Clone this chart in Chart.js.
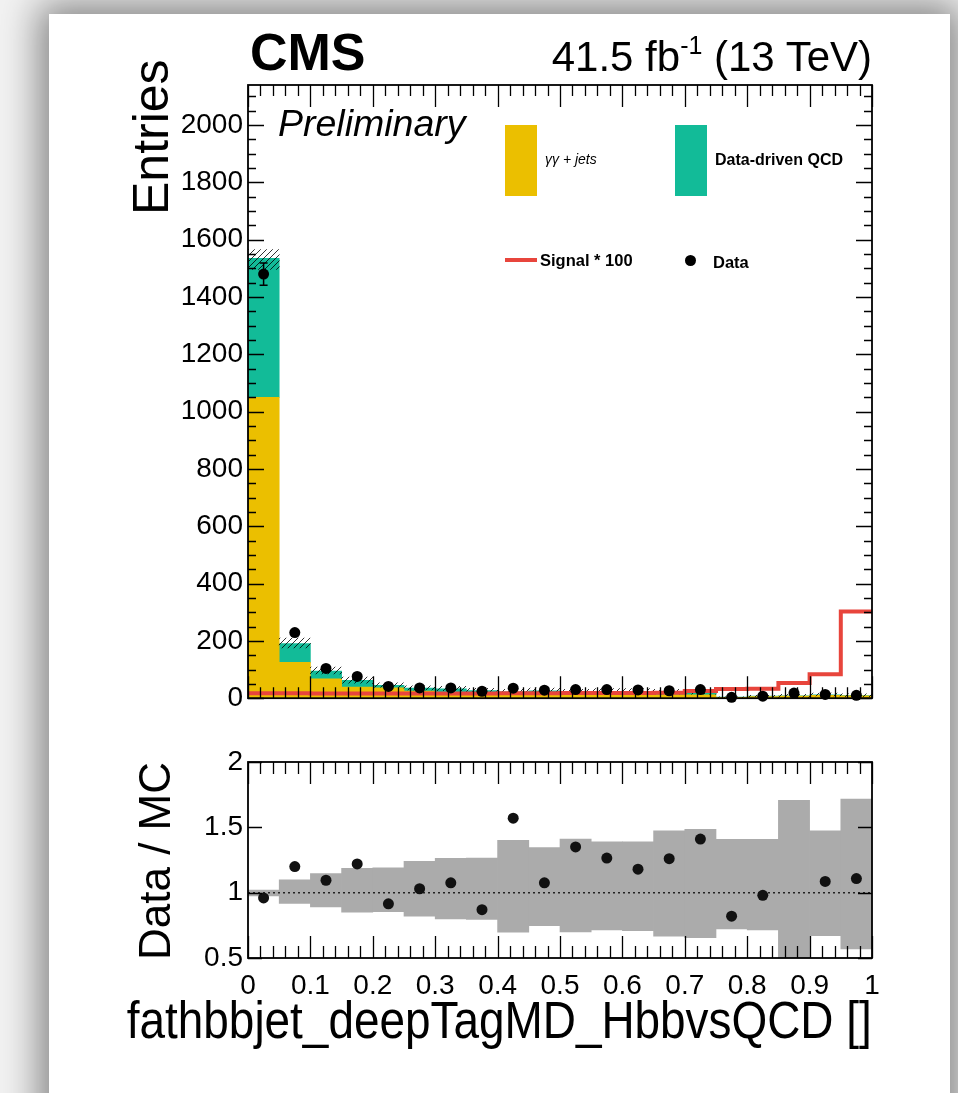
<!DOCTYPE html>
<html><head><meta charset="utf-8">
<script src="https://cdn.jsdelivr.net/npm/chart.js@4.4.1/dist/chart.umd.min.js"></script>
<style>
html,body{margin:0;padding:0}
body{width:958px;height:1093px;position:relative;overflow:hidden;background:#f2f2f2;font-family:'Liberation Sans',Arial,Helvetica,sans-serif;color:#000}
#card{position:absolute;left:49px;top:14px;width:901px;height:1140px;background:#fff;box-shadow:0 0 36px 10px rgba(0,0,0,0.45)}
canvas{position:absolute;left:0}
.t{position:absolute;white-space:nowrap;line-height:1}
.rot{transform-origin:0 0;transform:rotate(-90deg)}
.box{position:absolute}
</style></head><body>
<div id="card"></div>
<canvas id="mainCanvas" width="958" height="720" style="top:0"></canvas>
<canvas id="ratioCanvas" width="958" height="373" style="top:720px"></canvas>

<div class="t" style="left:250px;top:26px;font-size:52px;font-weight:bold">CMS</div>
<div class="t" style="right:86px;top:36px;font-size:42px">41.5 fb<span style="font-size:25px;position:relative;top:-17px">-1</span> (13 TeV)</div>
<div class="t" style="left:278px;top:105px;font-size:37.5px;font-style:italic">Preliminary</div>
<div class="t rot" style="left:126px;top:215px;font-size:50px">Entries</div>
<div class="t rot" style="left:133px;top:960px;font-size:44px">Data / MC</div>
<div class="t" style="right:86px;top:995px;font-size:51px;transform-origin:100% 50%;transform:scaleX(0.9)">fathbbjet_deepTagMD_HbbvsQCD []</div>

<div class="box" style="left:505px;top:125px;width:32px;height:71px;background:#EBBF00"></div>
<div class="t" style="left:545px;top:152px;font-size:14px;font-style:italic">γγ + jets</div>
<div class="box" style="left:675px;top:125px;width:32px;height:71px;background:#12BB98"></div>
<div class="t" style="left:715px;top:152px;font-size:16px;font-weight:bold">Data-driven QCD</div>
<div class="box" style="left:505px;top:258px;width:32px;height:4px;background:#E8453C"></div>
<div class="t" style="left:540px;top:252px;font-size:16.5px;font-weight:bold">Signal * 100</div>
<div class="box" style="left:685px;top:255px;width:11px;height:11px;border-radius:50%;background:#000"></div>
<div class="t" style="left:713px;top:254px;font-size:16.5px;font-weight:bold">Data</div>

<script>
// ---------- data ----------
const binLowEdges = [0, 0.05, 0.1, 0.15, 0.2, 0.25, 0.3, 0.35, 0.4, 0.45, 0.5, 0.55, 0.6, 0.65, 0.7, 0.75, 0.8, 0.85, 0.9, 0.95];
const binWidth = 0.05;
const gammaJets     = [1050, 125, 68, 39, 36, 25, 19, 17, 14, 15, 13, 14, 14, 12, 12, 3, 6, 7, 10, 8];
const dataDrivenQCD = [485, 66, 27, 23, 9, 10, 14, 10, 8, 11, 9, 10, 10, 9, 9, 0.7, 1, 1, 2, 1];
const signalX100    = [17, 17, 16, 16, 16, 16, 16, 16, 17, 17, 18, 18, 18, 19, 25, 32, 33, 53, 84, 303];
const dataCounts    = [1480, 229, 104, 76, 41, 36, 36, 24, 35, 28, 30, 30, 29, 26, 30, 3, 7, 18, 13, 10];
const dataErrors    = [39, 15, 10, 9, 6, 6, 6, 5, 6, 5, 5, 5, 5, 5, 5, 2, 3, 4, 4, 3];
const ratioValues   = [0.96, 1.20, 1.095, 1.22, 0.915, 1.03, 1.075, 0.87, 1.57, 1.075, 1.35, 1.265, 1.18, 1.26, 1.41, 0.82, 0.98, null, 1.086, 1.108];
const mcBandUp      = [1.02, 1.098, 1.146, 1.186, 1.19, 1.24, 1.262, 1.265, 1.40, 1.345, 1.41, 1.39, 1.39, 1.474, 1.485, 1.409, 1.409, 1.707, 1.474, 1.717];
const mcBandDown    = [0.975, 0.917, 0.89, 0.85, 0.855, 0.82, 0.80, 0.795, 0.697, 0.747, 0.70, 0.714, 0.71, 0.667, 0.656, 0.722, 0.714, 0.30, 0.67, 0.57];
const mainYTickValues  = [0, 200, 400, 600, 800, 1000, 1200, 1400, 1600, 1800, 2000];
const ratioYTickValues = [0.5, 1, 1.5, 2];
const xTickValues      = [0, 0.1, 0.2, 0.3, 0.4, 0.5, 0.6, 0.7, 0.8, 0.9, 1];
const mainYMax = 2140;

// ---------- styling ----------
Chart.defaults.font.family = "'Liberation Sans', Arial, Helvetica, sans-serif";
Chart.defaults.color = '#000';
const COL_YY = '#EBBF00', COL_QCD = '#12BB98', COL_SIG = '#E8453C', COL_BAND = '#ABABAB';

const centers = binLowEdges.map(e => e + binWidth / 2);
const mcTotal = gammaJets.map((v, i) => v + dataDrivenQCD[i]);

function hatchPattern() {
  const c = document.createElement('canvas'); c.width = 6; c.height = 6;
  const g = c.getContext('2d');
  g.strokeStyle = 'rgba(0,0,0,0.8)'; g.lineWidth = 1;
  g.beginPath(); g.moveTo(0, 6); g.lineTo(6, 0); g.moveTo(-1, 1); g.lineTo(1, -1); g.moveTo(5, 7); g.lineTo(7, 5); g.stroke();
  return g.createPattern(c, 'repeat');
}

// ROOT-like frame with inward ticks on all four sides
const rootFrame = {
  id: 'rootFrame',
  afterDatasetsDraw(chart, args, o) {
    const { ctx, chartArea: a } = chart;
    const xs = chart.scales.x, ys = chart.scales.y;
    ctx.save();
    ctx.strokeStyle = '#000'; ctx.lineWidth = 1.3;
    ctx.beginPath();
    for (let v = xs.min; v <= xs.max + 1e-9; v += o.xMinor) {
      const isMajor = Math.abs(v / o.xMajor - Math.round(v / o.xMajor)) < 1e-6;
      const len = isMajor ? o.xMajLen : o.xMinLen;
      const px = Math.round(xs.getPixelForValue(v)) + 0.5;
      ctx.moveTo(px, a.bottom); ctx.lineTo(px, a.bottom - len);
      ctx.moveTo(px, a.top); ctx.lineTo(px, a.top + len);
    }
    for (let v = ys.min; v <= ys.max + 1e-9; v += o.yMinor) {
      const isMajor = Math.abs(v / o.yMajor - Math.round(v / o.yMajor)) < 1e-6;
      const len = isMajor ? o.yMajLen : o.yMinLen;
      const py = Math.round(ys.getPixelForValue(v)) + 0.5;
      ctx.moveTo(a.left, py); ctx.lineTo(a.left + len, py);
      ctx.moveTo(a.right, py); ctx.lineTo(a.right - len, py);
    }
    ctx.stroke();
    ctx.lineWidth = 1.8;
    ctx.strokeRect(a.left, a.top, a.right - a.left, a.bottom - a.top);
    ctx.restore();
  }
};

// vertical error bars for the data points (drawn via the value scale)
const errorBars = {
  id: 'errorBars',
  afterDatasetsDraw(chart, args, o) {
    if (!o || o.datasetIndex === undefined) return;
    const meta = chart.getDatasetMeta(o.datasetIndex);
    const ys = chart.scales[meta.yAxisID];
    const ctx = chart.ctx;
    ctx.save(); ctx.strokeStyle = '#000'; ctx.lineWidth = 1.5;
    meta.data.forEach((pt, i) => {
      const v = dataCounts[i], e = dataErrors[i];
      const y1 = ys.getPixelForValue(v + e), y2 = ys.getPixelForValue(Math.max(v - e, 0));
      ctx.beginPath();
      ctx.moveTo(pt.x, y1); ctx.lineTo(pt.x, y2);
      if (y2 - y1 > 12) { ctx.moveTo(pt.x - 4, y1); ctx.lineTo(pt.x + 4, y1); ctx.moveTo(pt.x - 4, y2); ctx.lineTo(pt.x + 4, y2); }
      ctx.stroke();
    });
    ctx.restore();
  }
};

const hiddenAxis = (min, max) => ({ type: 'linear', min, max, display: false, stacked: false });
const labelTicks = (vals, pad) => ({
  padding: pad, font: { size: 28 }, color: '#000', autoSkip: false, maxRotation: 0, minRotation: 0,
  callback: v => String(Math.round(v * 100) / 100)
});
const fullBin = { barPercentage: 1, categoryPercentage: 1, grouped: false, borderWidth: 0 };

// ---------- main panel ----------
new Chart(document.getElementById('mainCanvas'), {
  type: 'bar',
  data: {
    datasets: [
      Object.assign({ label: 'γγ + jets', data: centers.map((x, i) => ({ x, y: gammaJets[i] })), backgroundColor: COL_YY,
        order: 3, yAxisID: 'y', stack: 'mc' }, fullBin),
      Object.assign({ label: 'Data-driven QCD', data: centers.map((x, i) => ({ x, y: dataDrivenQCD[i] })), backgroundColor: COL_QCD,
        order: 4, yAxisID: 'y', stack: 'mc' }, fullBin),
      Object.assign({ label: 'MC unc.', data: centers.map((x, i) => ({ x, y: [mcTotal[i] * mcBandDown[i], mcTotal[i] * mcBandUp[i]] })),
        backgroundColor: hatchPattern(), order: 2, yAxisID: 'yv' }, fullBin),
      { type: 'line', label: 'Signal * 100',
        data: binLowEdges.map((x, i) => ({ x, y: signalX100[i] })).concat([{ x: binLowEdges[binLowEdges.length - 1] + binWidth, y: signalX100[signalX100.length - 1] }]),
        stepped: 'before', borderColor: COL_SIG, borderWidth: 4, pointRadius: 0, fill: false, order: 1, yAxisID: 'yv' },
      { type: 'scatter', label: 'Data', data: centers.map((x, i) => ({ x, y: dataCounts[i] })),
        pointRadius: 5.5, pointHoverRadius: 5.5, backgroundColor: '#000', borderWidth: 0, order: 0, yAxisID: 'yv', clip: false }
    ]
  },
  options: {
    responsive: false, animation: false, devicePixelRatio: 1,
    layout: { padding: { left: 0, right: 86, top: 85, bottom: 13 } },
    plugins: { legend: { display: false }, tooltip: { enabled: false },
      rootFrame: { xMinor: 0.02, xMajor: 0.1, xMajLen: 22, xMinLen: 11, yMinor: 50, yMajor: 200, yMajLen: 16, yMinLen: 8 },
      errorBars: { datasetIndex: 4 } },
    scales: {
      x: { type: 'linear', min: 0, max: 1, offset: false, stacked: true, display: false },
      y: { type: 'linear', min: 0, max: mainYMax, stacked: true,
           afterFit: s => { s.width = 248; },
           afterBuildTicks: s => { s.ticks = mainYTickValues.map(v => ({ value: v })); },
           grid: { display: false, drawTicks: false }, border: { display: false },
           ticks: labelTicks(mainYTickValues, 5) },
      yv: hiddenAxis(0, mainYMax)
    }
  },
  plugins: [rootFrame, errorBars]
});

// ---------- ratio panel ----------
new Chart(document.getElementById('ratioCanvas'), {
  type: 'bar',
  data: {
    datasets: [
      Object.assign({ label: 'MC unc.', data: centers.map((x, i) => ({ x, y: [mcBandDown[i], mcBandUp[i]] })),
        backgroundColor: COL_BAND, order: 3 }, fullBin),
      { type: 'line', label: 'unity', data: [{ x: 0, y: 1 }, { x: 1, y: 1 }],
        borderColor: '#222', borderWidth: 1.5, borderDash: [2, 3], pointRadius: 0, fill: false, order: 2 },
      { type: 'scatter', label: 'Data / MC',
        data: centers.map((x, i) => ratioValues[i] == null ? null : { x, y: ratioValues[i] }).filter(Boolean),
        pointRadius: 5.5, pointHoverRadius: 5.5, backgroundColor: '#111', borderWidth: 0, order: 0 }
    ]
  },
  options: {
    responsive: false, animation: false, devicePixelRatio: 1,
    layout: { padding: { left: 0, right: 86, top: 42, bottom: 0 } },
    plugins: { legend: { display: false }, tooltip: { enabled: false },
      rootFrame: { xMinor: 0.02, xMajor: 0.1, xMajLen: 22, xMinLen: 12, yMinor: 0.5, yMajor: 0.5, yMajLen: 14, yMinLen: 14 } },
    scales: {
      x: { type: 'linear', min: 0, max: 1, offset: false, stacked: true,
           afterFit: s => { s.height = 135; },
           afterBuildTicks: s => { s.ticks = xTickValues.map(v => ({ value: v })); },
           grid: { display: false, drawTicks: false }, border: { display: false },
           ticks: labelTicks(xTickValues, 11) },
      y: { type: 'linear', min: 0.5, max: 2,
           afterFit: s => { s.width = 248; },
           afterBuildTicks: s => { s.ticks = ratioYTickValues.map(v => ({ value: v })); },
           grid: { display: false, drawTicks: false }, border: { display: false },
           ticks: labelTicks(ratioYTickValues, 5) }
    }
  },
  plugins: [rootFrame]
});
</script>
</body></html>
